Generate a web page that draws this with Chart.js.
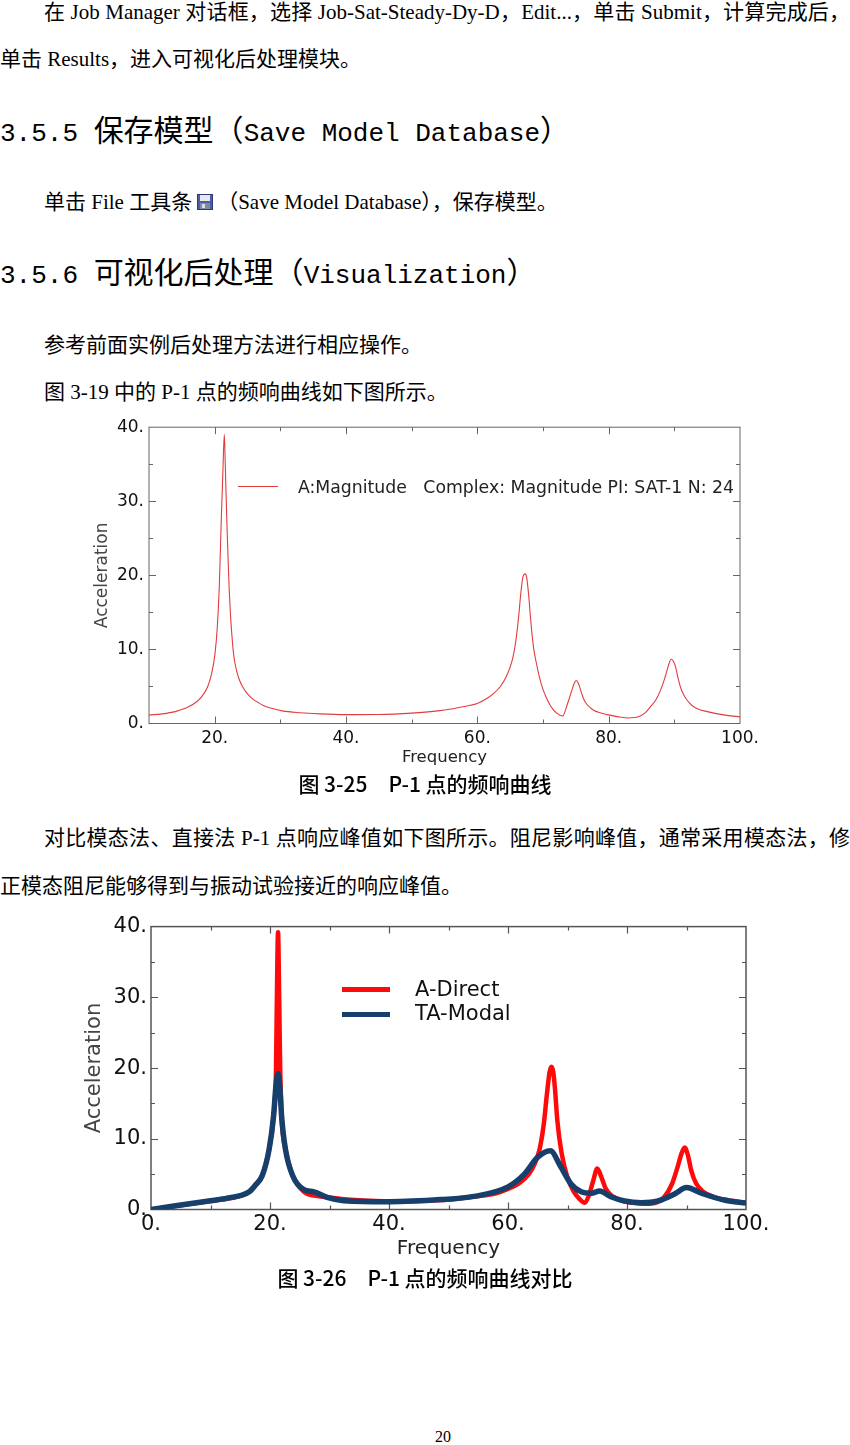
<!DOCTYPE html>
<html>
<head>
<meta charset="utf-8">
<script src="https://cdn.jsdelivr.net/npm/chart.js@4.4.1/dist/chart.umd.min.js"></script>
<style>
  html,body{margin:0;padding:0;background:#fff;}
  body{width:850px;height:1445px;position:relative;overflow:hidden;}
  .t{position:absolute;white-space:pre;color:#000;font-family:"Liberation Serif","Noto Sans CJK SC",serif;font-size:21px;line-height:30px;}
  .j{white-space:normal;text-align:justify;text-align-last:justify;}
  .h{position:absolute;white-space:pre;color:#000;font-family:"Liberation Mono","Noto Sans CJK SC",monospace;font-size:26px;line-height:36px;}
  .h .c{font-family:"Noto Sans CJK SC",sans-serif;font-size:30px;}
  .cap{position:absolute;left:0;width:850px;text-align:center;white-space:pre;color:#000;font-family:"Noto Sans CJK SC",sans-serif;font-size:21px;font-weight:500;line-height:28px;}
  .wrap{position:absolute;}
  .lg{position:absolute;white-space:pre;font-family:"DejaVu Sans",sans-serif;color:#222;}
  .ico{display:inline-block;vertical-align:-1px;margin:0 4px 0 5px;}
</style>
</head>
<body>

<div class="t j" style="left:44px;top:-3px;width:806px;">在 Job Manager 对话框，选择 Job-Sat-Steady-Dy-D，Edit...，单击 Submit，计算完成后，</div>
<div class="t" style="left:0px;top:44px;">单击 Results，进入可视化后处理模块。</div>

<div class="h" style="left:0px;top:110px;">3.5.5 <span class="c">保存模型（</span>Save Model Database<span class="c">）</span></div>

<div class="t" style="left:44px;top:187px;">单击 File 工具条<svg class="ico" width="16" height="16" viewBox="0 0 16 16"><rect x="0.5" y="0.5" width="15" height="15" fill="#4a5fa8" stroke="#2c3a78"/><rect x="3" y="1" width="10" height="6" fill="#e8e8ee"/><rect x="3" y="9" width="10" height="6" fill="#7f8aa0"/><rect x="5" y="10" width="3" height="4" fill="#dcdce4"/></svg>（Save Model Database），保存模型。</div>

<div class="h" style="left:0px;top:252px;">3.5.6 <span class="c">可视化后处理（</span>Visualization<span class="c">）</span></div>

<div class="t" style="left:44px;top:330px;">参考前面实例后处理方法进行相应操作。</div>
<div class="t" style="left:44px;top:377px;">图 3-19 中的 P-1 点的频响曲线如下图所示。</div>

<div class="wrap" style="left:90px;top:412px;width:680px;height:365px;"><canvas id="c1" width="680" height="365"></canvas></div>
<div class="lg" style="left:238px;top:486px;width:40px;height:1px;background:rgb(226,60,62);"></div>
<div class="lg" style="left:298px;top:475px;font-size:17.3px;line-height:24px;">A:Magnitude   Complex: Magnitude PI: SAT-1 N: 24</div>

<div class="cap" style="top:769px;">图 3-25&emsp;P-1 点的频响曲线</div>

<div class="t j" style="left:44px;top:823px;width:806px;">对比模态法、直接法 P-1 点响应峰值如下图所示。阻尼影响峰值，通常采用模态法，修</div>
<div class="t" style="left:0px;top:871px;">正模态阻尼能够得到与振动试验接近的响应峰值。</div>

<div class="wrap" style="left:80px;top:910px;width:700px;height:360px;"><canvas id="c2" width="700" height="360"></canvas></div>
<div class="lg" style="left:342px;top:987px;width:48px;height:5px;background:#ff0a0a;"></div>
<div class="lg" style="left:342px;top:1012px;width:48px;height:5px;background:#173f6c;"></div>
<div class="lg" style="left:415px;top:976px;font-size:21px;line-height:26px;color:#111;">A-Direct</div>
<div class="lg" style="left:415px;top:1000px;font-size:21px;line-height:26px;color:#111;">TA-Modal</div>

<div class="cap" style="top:1263px;">图 3-26&emsp;P-1 点的频响曲线对比</div>

<div class="t" style="left:0;width:886px;text-align:center;top:1424px;font-size:16px;line-height:26px;">20</div>

<script>
// ---------- Figure 3-25: P-1 frequency response ----------
const freq1 = [10, 12, 14, 15.5, 16.9, 18, 18.9, 19.5, 20.05, 20.4, 20.7, 21.0, 21.25, 21.47, 21.6, 21.75, 21.9, 22.05, 22.2, 22.4, 22.6, 22.85, 23.1, 23.4, 23.8, 24.3, 25, 25.8, 26.5, 27.5, 28.5, 30.3, 33, 36, 40, 45, 50, 54, 56, 58, 60, 61.5, 62.5, 63.5, 64.4, 65.3, 65.7, 66.0, 66.3, 66.6, 66.9, 67.25, 67.5, 67.8, 68.05, 68.3, 68.6, 69.0, 69.5, 70.0, 70.5, 71.0, 71.5, 72.1, 72.6, 73.0, 73.3, 73.6, 74.0, 74.4, 74.75, 75.07, 75.4, 75.7, 76.1, 76.5, 77.1, 77.7, 78.7, 79.8, 81.5, 83, 84.5, 85.5, 86.4, 87.2, 87.9, 88.5, 88.9, 89.2, 89.5, 89.85, 90.2, 90.55, 90.9, 91.4, 91.9, 92.6, 93.5, 95, 96.6, 98, 100];
const acc1  = [1.15, 1.3, 1.6, 2.05, 2.7, 3.6, 4.9, 6.6, 9.4, 13, 18.4, 27.3, 34, 39, 35.5, 30.5, 26, 22, 18.4, 14.8, 12.2, 9.6, 8.1, 6.9, 5.8, 4.9, 4.0, 3.3, 2.9, 2.4, 2.1, 1.7, 1.45, 1.3, 1.2, 1.22, 1.4, 1.7, 1.95, 2.3, 2.7, 3.4, 4.06, 5.0, 6.3, 8.5, 10.2, 12.1, 14.5, 17.4, 19.6, 20.2, 19.8, 17.5, 14.8, 12.3, 10.0, 8.1, 6.1, 4.6, 3.5, 2.6, 1.95, 1.4, 1.1, 1.0, 1.5, 2.3, 3.4, 4.5, 5.4, 5.8, 5.4, 4.6, 3.5, 2.8, 2.2, 1.8, 1.45, 1.2, 0.9, 0.75, 0.9, 1.4, 2.3, 3.2, 4.5, 6.0, 7.2, 8.1, 8.7, 8.4, 7.6, 6.2, 5.0, 3.9, 3.2, 2.5, 2.0, 1.6, 1.3, 1.1, 0.9];

// ---------- Figure 3-26: Direct vs Modal ----------
const freqDirect = [0, 5, 10, 13, 16.5, 17.5, 18.7, 19.85, 20.6, 21.0, 21.15, 21.35, 21.55, 21.7, 21.95, 22.6, 23.8, 25.7, 28, 30, 32, 35, 40, 45, 50, 54.3, 58, 60, 62, 63.5, 64.5, 65.3, 66, 66.5, 67, 67.3, 67.6, 67.9, 68.3, 69, 70, 71, 72, 72.9, 73.6, 74.3, 75, 75.6, 76.4, 77.5, 79, 81, 83, 85, 86.3, 87.5, 88.5, 89.2, 89.7, 90.2, 90.8, 91.6, 92.8, 94.5, 97, 100];
const accDirect  = [0, 0.6, 1.2, 1.55, 2.5, 3.4, 4.8, 8.5, 13.2, 19.5, 29.5, 39.2, 29.5, 20.5, 13.2, 8.5, 4.8, 2.5, 1.9, 1.7, 1.5, 1.3, 1.15, 1.2, 1.4, 1.85, 2.3, 2.9, 3.8, 5.0, 6.5, 8.5, 12, 16, 19.5, 20.2, 19.5, 17, 12.5, 8, 4.5, 2.6, 1.5, 0.95, 2.0, 4.0, 5.8, 4.8, 3.0, 1.9, 1.3, 0.95, 0.8, 1.0, 1.8, 3.5, 6.0, 8.0, 8.75, 7.8, 5.5, 3.7, 2.5, 1.8, 1.3, 0.9];

const freqModal = [0, 10, 12.8, 16.5, 17.5, 18.7, 19.85, 20.6, 21.0, 21.35, 21.65, 21.95, 22.6, 23.8, 25.7, 27.4, 29.6, 32.4, 40, 48.7, 54.3, 60, 62.75, 65.0, 67.1, 68.9, 70.6, 72.3, 74, 75.4, 77.3, 79.6, 82.4, 85.2, 88.0, 90.0, 92.5, 96.5, 100];
const accModal  = [0, 1.25, 1.6, 2.5, 3.4, 4.8, 8.5, 13.2, 17.5, 19.2, 17.5, 13.2, 8.5, 4.8, 2.8, 2.5, 1.7, 1.25, 1.1, 1.4, 1.85, 3.2, 5.0, 7.4, 8.3, 6.0, 3.6, 2.5, 2.3, 2.6, 1.8, 1.2, 0.95, 1.2, 2.2, 3.1, 2.3, 1.3, 0.9];

// ---------- tick labels ----------
const xLabels1 = [20, 40, 60, 80, 100];
const xLabels2 = [0, 20, 40, 60, 80, 100];
const yLabels  = [0, 10, 20, 30, 40];

const pts = (xs, ys) => xs.map((x, i) => ({x: x, y: ys[i]}));

// inward frame ticks on all four sides
const frameTicks = {
  id: 'frameTicks',
  beforeDatasetsDraw(chart, args, o) {
    const {ctx, chartArea: a, scales: {x, y}} = chart;
    ctx.save();
    ctx.strokeStyle = o.color;
    ctx.lineWidth = o.frame;
    ctx.strokeRect(a.left, a.top, a.right - a.left, a.bottom - a.top);
    ctx.lineWidth = o.tick;
    ctx.beginPath();
    for (let v = Math.ceil(x.min / 10) * 10; v <= x.max; v += 10) {
      if (v <= x.min || v >= x.max) continue;
      const p = Math.round(x.getPixelForValue(v)) + 0.5;
      const len = (v % 20 === 0) ? o.major : o.minor;
      ctx.moveTo(p, a.bottom); ctx.lineTo(p, a.bottom - len);
      ctx.moveTo(p, a.top); ctx.lineTo(p, a.top + len);
    }
    for (let v = 5; v < y.max; v += 5) {
      const p = Math.round(y.getPixelForValue(v)) + 0.5;
      const len = (v % 10 === 0) ? o.major : o.minor;
      ctx.moveTo(a.left, p); ctx.lineTo(a.left + len, p);
      ctx.moveTo(a.right, p); ctx.lineTo(a.right - len, p);
    }
    ctx.stroke();
    ctx.restore();
  }
};

function axes(cfg) {
  return {
    x: {
      type: 'linear', min: cfg.xmin, max: 100,
      afterBuildTicks: s => { s.ticks = cfg.xl.map(v => ({value: v})); },
      afterFit: s => { s.height = cfg.xh; },
      grid: {display: false, drawTicks: false},
      border: {display: false},
      ticks: {autoSkip: false, maxRotation: 0, padding: cfg.xpad, color: '#111',
              font: {family: 'DejaVu Sans', size: cfg.tf}, callback: v => v + '.'},
      title: {display: true, text: 'Frequency', color: '#222',
              font: {family: 'DejaVu Sans', size: cfg.xtf}, padding: {top: 0, bottom: cfg.xtp}}
    },
    y: {
      type: 'linear', min: 0, max: 40,
      afterBuildTicks: s => { s.ticks = yLabels.map(v => ({value: v})); },
      afterFit: s => { s.width = cfg.yw; },
      grid: {display: false, drawTicks: false},
      border: {display: false},
      ticks: {padding: cfg.ypad, color: '#111',
              font: {family: 'DejaVu Sans', size: cfg.tf}, callback: v => v + '.'},
      title: {display: true, text: 'Acceleration', color: '#444',
              font: {family: 'DejaVu Sans', size: cfg.ytf}, padding: {top: cfg.ytp, bottom: 0}}
    }
  };
}

new Chart(document.getElementById('c1'), {
  type: 'line',
  data: {
    datasets: [{
      label: 'A:Magnitude',
      data: pts(freq1, acc1),
      borderColor: 'rgb(226,60,62)', borderWidth: 1.1,
      pointRadius: 0, fill: false, cubicInterpolationMode: 'monotone'
    }]
  },
  options: {
    responsive: false, animation: false,
    layout: {padding: {top: 13.5, right: 30, left: 0, bottom: 0}},
    plugins: {legend: {display: false}, tooltip: {enabled: false},
              frameTicks: {color: '#666', frame: 1, tick: 1, major: 7, minor: 4}},
    scales: axes({xmin: 10, xl: xLabels1, xh: 53.5, xpad: 5, tf: 17, xtf: 16.5, xtp: 9, yw: 59, ypad: 5, ytf: 17, ytp: 2})
  },
  plugins: [frameTicks]
});

new Chart(document.getElementById('c2'), {
  type: 'line',
  data: {
    datasets: [{
      label: 'A-Direct',
      data: pts(freqDirect, accDirect),
      borderColor: '#ff0a0a', borderWidth: 4.5, order: 1,
      pointRadius: 0, fill: false, cubicInterpolationMode: 'monotone'
    }, {
      label: 'TA-Modal',
      data: pts(freqModal, accModal),
      borderColor: '#173f6c', borderWidth: 5.5, order: 0,
      pointRadius: 0, fill: false, cubicInterpolationMode: 'monotone'
    }]
  },
  options: {
    responsive: false, animation: false,
    layout: {padding: {top: 11.7, right: 34, left: 0, bottom: 0}},
    plugins: {legend: {display: false}, tooltip: {enabled: false},
              frameTicks: {color: '#555', frame: 1.5, tick: 1.2, major: 7, minor: 4}},
    scales: axes({xmin: 0, xl: xLabels2, xh: 60.5, xpad: 2, tf: 21, xtf: 20, xtp: 9, yw: 71, ypad: 4, ytf: 21, ytp: 2.4})
  },
  plugins: [frameTicks]
});
</script>
</body>
</html>
